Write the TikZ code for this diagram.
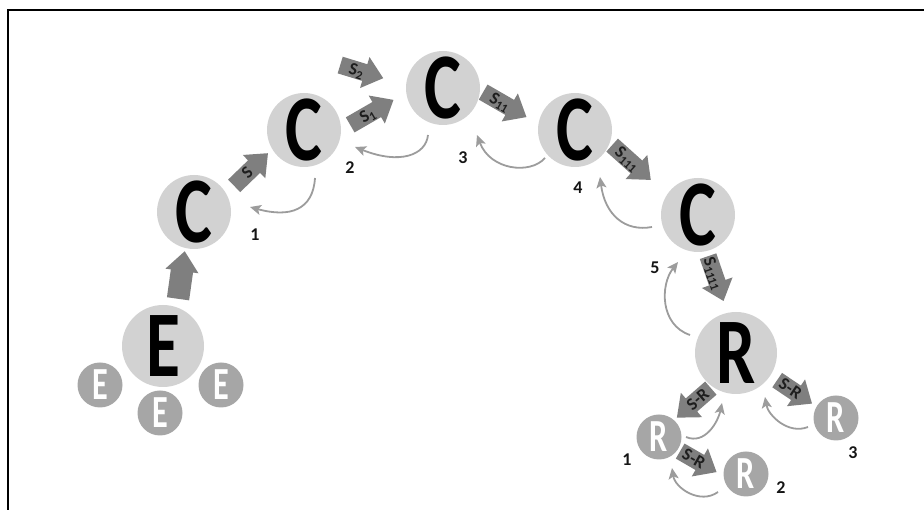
\documentclass[tikz,border=0pt]{standalone}
\usepackage{fontspec}
\setmainfont{Carlito}
\usetikzlibrary{shapes.arrows,arrows.meta,calc}

\definecolor{cellfill}{HTML}{D2D2D2}
\definecolor{childfill}{HTML}{A6A6A6}
\definecolor{signal}{HTML}{7F7F7F}
\definecolor{feedback}{HTML}{9C9C9C}
\definecolor{ink}{HTML}{151515}
\definecolor{signalink}{HTML}{1E1E1E}

\newcommand\bigletter[1]{\scalebox{0.74}[1]{\fontsize{94}{94}\selectfont\bfseries #1}}
\newcommand\smallletter[1]{\scalebox{0.7}[1]{\fontsize{46}{46}\selectfont\bfseries #1}}

\begin{document}
\begin{tikzpicture}[x=1pt,y=1pt,
  cell/.style={circle, fill=cellfill, inner sep=0pt, minimum size=74pt, text=black},
  bigcell/.style={cell, minimum size=82pt},
  child/.style={circle, fill=childfill, inner sep=0pt, minimum size=45pt, text=white},
  num/.style={font=\fontsize{18}{18}\selectfont\bfseries, text=ink, inner sep=0pt},
  sig/.style={single arrow, fill=signal, draw=none, text=signalink,
    font=\fontsize{17.5}{17.5}\selectfont\bfseries,
    text height=11pt, text depth=0pt, inner ysep=3pt, inner xsep=1.5pt,
    single arrow head extend=7.5pt, single arrow tip angle=80, anchor=tail},
  back/.style={draw=feedback, line width=1.8pt,
    -{Stealth[length=11pt,width=10pt,inset=2.5pt]}}
]
\useasboundingbox (0,0) rectangle (924,510);

% frame
\draw[line width=2pt] (8,0) -- (8,500) -- (924,500);

% cells
\node[bigcell] (e)  at (163,164) {\bigletter{E}};
\node[child]   (e1) at (100,125) {\smallletter{E}};
\node[child]   (e2) at (160,97)  {\smallletter{E}};
\node[child]   (e3) at (221,125) {\smallletter{E}};

\node[cell] (c1) at (194,298) {\bigletter{C}};
\node[cell] (c2) at (304,380) {\bigletter{C}};
\node[cell] (c3) at (443,422) {\bigletter{C}};
\node[cell] (c4) at (575,380) {\bigletter{C}};
\node[cell] (c5) at (698,295) {\bigletter{C}};

\node[bigcell] (r)  at (736,157) {\bigletter{R}};
\node[child]   (r1) at (659,73)  {\smallletter{R}};
\node[child]   (r2) at (746,36)  {\smallletter{R}};
\node[child]   (r3) at (836,92)  {\smallletter{R}};

% generation numbers
\node[num] (n1) at (255,275) {1};
\node[num] (n2) at (350,342) {2};
\node[num] (n3) at (463,352) {3};
\node[num] (n4) at (578,322) {4};
\node[num] (n5) at (655,242) {5};
\node[num] (m1) at (627,50)  {1};
\node[num] (m2) at (781,22)  {2};
\node[num] (m3) at (853,57)  {3};

% signalling arrows
\node[sig, rotate=82, minimum height=48pt, text height=13pt, inner ysep=4.5pt,
      single arrow head extend=5.5pt] (a0) at (178,211) {};
\node[sig, rotate=44,  minimum height=47pt] (s)    at (234,324) {S};
\node[sig, rotate=30,  minimum height=50pt] (s1)   at (350,385) {S\textsubscript{1}};
\node[sig, rotate=-17, minimum height=45pt] (s2)   at (340,445) {S\textsubscript{2}};
\node[sig, rotate=-30, minimum height=50pt] (s11)  at (483,418) {S\textsubscript{11}};
\node[sig, rotate=-42, minimum height=52pt] (s111) at (612,365) {S\textsubscript{111}};
\node[sig, rotate=-71, minimum height=44pt] (s1111) at (708,254) {S\textsubscript{1111}};
\node[sig, rotate=41, shape border rotate=180, minimum height=45pt] (sr1) at (711,122) {S-R};
\node[sig, rotate=-34, minimum height=42pt] (sr3) at (777,130) {S-R};
\node[sig, rotate=-30, minimum height=42pt] (sr2) at (680,59)  {S-R};

% feedback arrows
\draw[back] ($(c2)+(11,-48)$) .. controls +(-2,-32) and +(40,-11) .. ($(c1)+(56,5)$);
\draw[back] ($(c3)+(-15,-47)$) .. controls +(-2,-20) and +(45,-18) .. ($(c2)+(51,-17)$);
\draw[back] ($(c4)+(-30,-28)$) .. controls +(-15,-17) and +(13,-35) .. ($(c3)+(34,-47)$);
\draw[back] ($(c5)+(-46,-12)$) .. controls +(-27,-5) and +(5,-38) .. ($(c4)+(25,-47)$);
\draw[back] ($(r)+(-46,18)$) .. controls +(-30,10) and +(-18,-23) .. ($(c5)+(-20,-47)$);
\draw[back] ($(r1)+(27,0)$) .. controls +(19,-8) and +(-4,-19) .. ($(r)+(-14,-50)$);
\draw[back] ($(r3)+(-28,-9)$) .. controls +(-20,-8) and +(3,-18) .. ($(r)+(29,-44)$);
\draw[back] ($(r2)+(-28,-18)$) .. controls +(-18,-13) and +(3,-20) .. ($(r1)+(13,-31)$);
\end{tikzpicture}
\end{document}
